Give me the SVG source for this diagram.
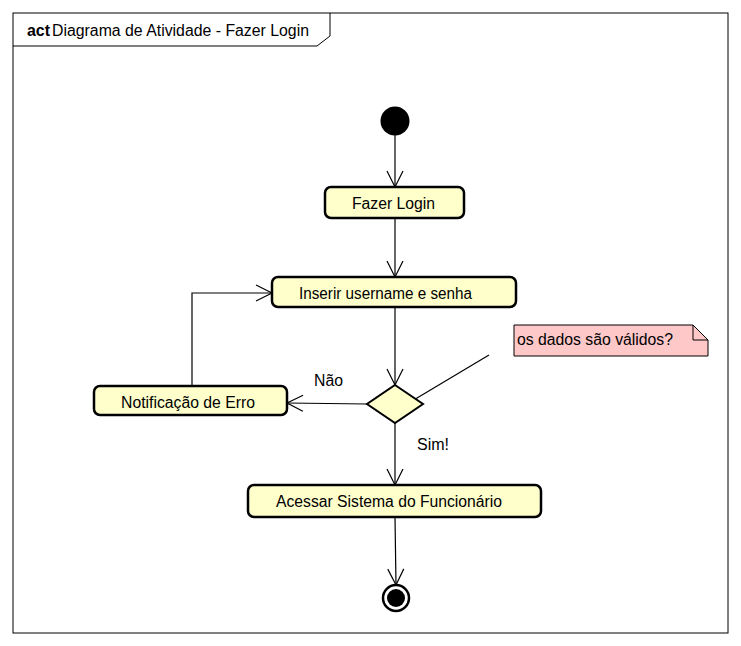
<svg xmlns="http://www.w3.org/2000/svg" width="741" height="646" viewBox="0 0 741 646">
<style>
text{font-family:"Liberation Sans",Arial,sans-serif;font-size:16px;fill:#000}
.act{fill:#FFFFCC;stroke:#000;stroke-width:2.5}
.c{fill:none;stroke:#000;stroke-width:1.2}
</style>
<defs>
<marker id="open" viewBox="0 0 20 20" refX="18" refY="10" markerWidth="20" markerHeight="20" markerUnits="userSpaceOnUse" orient="auto">
<path d="M2,2 L18,10 L2,18" fill="none" stroke="#000" stroke-width="1.2"/>
</marker>
</defs>
<rect x="0" y="0" width="741" height="646" fill="#fff"/>
<g id="frame">
<rect x="13" y="13" width="715" height="620" fill="none" stroke="#000" stroke-width="1"/>
<path d="M13,46 H317 L330,36 V13" fill="none" stroke="#000" stroke-width="1"/>
<text x="27" y="36" font-weight="bold" textLength="23" lengthAdjust="spacingAndGlyphs">act</text>
<text x="52" y="36" textLength="257" lengthAdjust="spacingAndGlyphs">Diagrama de Atividade - Fazer Login</text>
</g>
<g id="connectors">
<line class="c" x1="395" y1="135" x2="395" y2="187" marker-end="url(#open)"/>
<line class="c" x1="395" y1="218" x2="395" y2="277" marker-end="url(#open)"/>
<line class="c" x1="395" y1="307" x2="395" y2="385" marker-end="url(#open)"/>
<line class="c" x1="367" y1="404" x2="287" y2="403" marker-end="url(#open)"/>
<polyline class="c" points="192,385 192,293 272,293" marker-end="url(#open)"/>
<line class="c" x1="395" y1="423" x2="395" y2="485" marker-end="url(#open)"/>
<line class="c" x1="395" y1="517" x2="396" y2="585" marker-end="url(#open)"/>
<line class="c" x1="412" y1="401" x2="489" y2="355"/>
<text x="314" y="386" textLength="29" lengthAdjust="spacingAndGlyphs">Não</text>
<text x="417" y="450" textLength="32" lengthAdjust="spacingAndGlyphs">Sim!</text>
</g>
<g id="start"><circle cx="395" cy="121" r="14.5" fill="#000"/></g>
<g id="fazerLogin">
<rect class="act" x="325" y="187" width="139" height="31" rx="6"/>
<text x="352" y="209" textLength="83" lengthAdjust="spacingAndGlyphs">Fazer Login</text>
</g>
<g id="inserir">
<rect class="act" x="272" y="277" width="244" height="30" rx="6"/>
<text x="299" y="299" textLength="173" lengthAdjust="spacingAndGlyphs">Inserir username e senha</text>
</g>
<g id="decisao">
<polygon points="395,385 423,404 395,423 367,404" fill="#FFFFCC" stroke="#000" stroke-width="2"/>
</g>
<g id="notificacao">
<rect class="act" x="94" y="386" width="193" height="29" rx="6"/>
<text x="121" y="408" textLength="134" lengthAdjust="spacingAndGlyphs">Notificação de Erro</text>
</g>
<g id="acessar">
<rect class="act" x="248" y="485" width="293" height="32" rx="6"/>
<text x="276" y="507" textLength="226" lengthAdjust="spacingAndGlyphs">Acessar Sistema do Funcionário</text>
</g>
<g id="fim">
<circle cx="396" cy="598" r="13" fill="#fff" stroke="#000" stroke-width="2.5"/>
<circle cx="396" cy="598" r="9" fill="#000"/>
</g>
<g id="nota">
<path d="M514,325 H693 L708,340 V356 H514 Z" fill="#FFC8C8" stroke="#000" stroke-width="1"/>
<path d="M693,325 V340 H708" fill="none" stroke="#000" stroke-width="1"/>
<text x="517" y="345" textLength="156" lengthAdjust="spacingAndGlyphs">os dados são válidos?</text>
</g>
</svg>
